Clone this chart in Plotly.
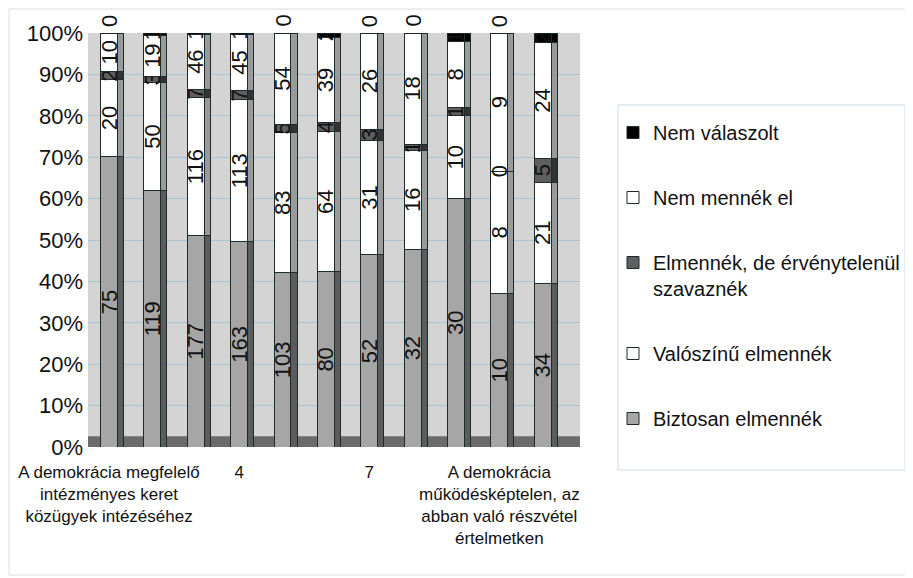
import plotly.graph_objects as go

categories = [1, 2, 3, 4, 5, 6, 7, 8, 9, 10, 11]
tick_vals = [1, 4, 7, 10]
tick_text = [
    "A demokrácia megfelelő<br>intézményes keret<br>közügyek intézéséhez",
    "4",
    "7",
    "A demokrácia<br>működésképtelen, az<br>abban való részvétel<br>értelmetken",
]

biztosan = [75, 119, 177, 163, 103, 80, 52, 32, 30, 10, 34]
valoszinu = [20, 50, 116, 113, 83, 64, 31, 16, 10, 8, 21]
ervenytelen = [2, 3, 7, 7, 5, 4, 3, 1, 1, 0, 5]
nem_mennek = [10, 19, 46, 45, 54, 39, 26, 18, 8, 9, 24]
nem_valaszolt = [0, 1, 1, 1, 0, 2, 0, 0, 1, 0, 2]

series = [
    ("Biztosan elmennék", biztosan, "#a6a6a6", "#5c5c5c"),
    ("Valószínű elmennék", valoszinu, "#ffffff", "#9a9a9a"),
    ("Elmennék, de érvénytelenül<br>szavaznék", ervenytelen, "#5f5f5f", "#333333"),
    ("Nem mennék el", nem_mennek, "#ffffff", "#9a9a9a"),
    ("Nem válaszolt", nem_valaszolt, "#000000", "#000000"),
]

FONT = "Liberation Sans Narrow, Liberation Sans, Arial"
fig = go.Figure()

# side faces (pseudo-3D) on an overlaid axis pair
for i, (name, vals, col, side) in enumerate(series):
    fig.add_trace(go.Bar(
        x=categories, y=vals, name=name, showlegend=False, hoverinfo="skip",
        marker=dict(color=side, line=dict(color="#1c2b2b", width=1)),
        offset=0.195, width=0.14, xaxis="x2", yaxis="y2",
    ))

for i, (name, vals, col, side) in enumerate(series):
    fig.add_trace(go.Bar(
        x=categories, y=vals, name=name, legendgroup=str(i), legendrank=100 - 10 * i,
        marker=dict(color=col, line=dict(color="#1c2b2b", width=1)),
        text=[str(v) for v in vals], textposition="inside",
        insidetextanchor="middle", textangle=-90, constraintext="none",
        textfont=dict(family=FONT, size=22, color="#111111"),
        width=0.39,
    ))

# labels for zero-size segments
annotations = []
totals = [sum(s[1][k] for s in series) for k in range(len(categories))]
for k, cat in enumerate(categories):
    cum = 0
    for name, vals, col, side in series:
        if vals[k] == 0:
            pct = 100.0 * cum / totals[k]
            annotations.append(dict(
                x=cat, y=pct, xref="x", yref="y", text="0", showarrow=False,
                textangle=-90, font=dict(family=FONT, size=22, color="#111111"),
                yanchor="middle", yshift=12 if pct >= 99.9 else 0,
            ))
        cum += vals[k]

# the page places the figure 8px in from the top-left corner
FW, FH = 905, 570
T, B = 25, 439
H = B - T
L, R = 80, 572
W = R - L
xr = [0.515, 11.86]
fig.update_layout(
    barmode="stack", barnorm="percent",
    width=FW, height=FH,
    margin=dict(l=L, r=FW - R, t=T, b=FH - B, autoexpand=False),
    paper_bgcolor="#ffffff", plot_bgcolor="#d4d4d4",
    font=dict(family=FONT, color="#111111"),
    xaxis=dict(range=xr, tickvals=tick_vals, ticktext=tick_text,
               tickfont=dict(size=17), showgrid=False, zeroline=False,
               ticks="", tickangle=0, automargin=False, ticklabelstandoff=13),
    yaxis=dict(range=[0, 100], tickvals=list(range(0, 101, 10)),
               ticktext=[f"{v}%" for v in range(0, 101, 10)],
               tickfont=dict(size=22), gridcolor="#a9c4d2", gridwidth=1,
               zeroline=False, ticks="", automargin=False, ticklabelstandoff=4),
    xaxis2=dict(range=xr, overlaying="x", visible=False),
    yaxis2=dict(range=[0, 100], overlaying="y", visible=False),
    legend=dict(x=(605 - L) / W, y=(B - 105) / H, xanchor="left", yanchor="top",
                traceorder="grouped", tracegroupgap=36, valign="top",
                font=dict(size=20), borderwidth=0, bgcolor="rgba(0,0,0,0)"),
    showlegend=True,
    annotations=annotations,
    shapes=[
        dict(type="rect", xref="paper", yref="paper", x0=0, x1=1, y0=0, y1=0.026,
             fillcolor="#6b6b6b", line=dict(width=0), layer="below"),
        dict(type="rect", xref="paper", yref="paper",
             x0=(610 - L) / W, x1=(897 - L) / W,
             y0=(B - 462) / H, y1=(B - 97) / H,
             line=dict(color="#c8dce6", width=1), fillcolor="rgba(0,0,0,0)"),
        dict(type="rect", xref="paper", yref="paper",
             x0=(1 - L) / W, x1=(902 - L) / W,
             y0=(B - 567) / H, y1=(B - 1) / H,
             line=dict(color="#dddddd", width=1), fillcolor="rgba(0,0,0,0)"),
    ],
)

fig.write_html("out.html")
